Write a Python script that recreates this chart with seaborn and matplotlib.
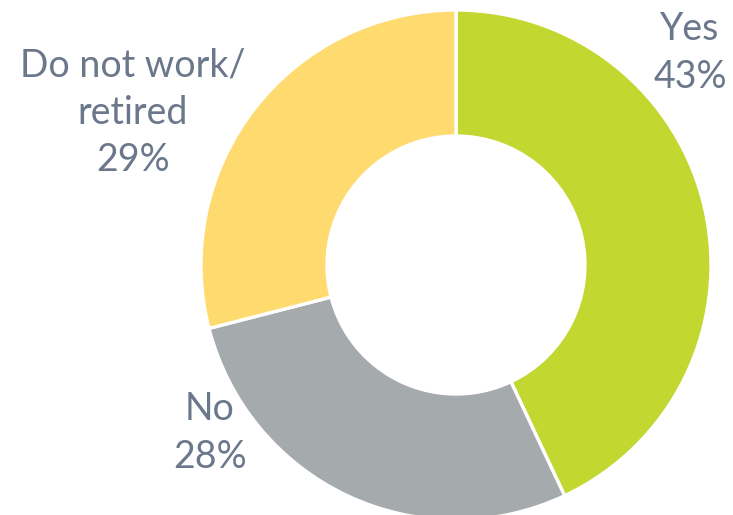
import matplotlib
matplotlib.use("Agg")
import matplotlib.pyplot as plt
import seaborn as sns

# Share of respondents by answer
categories = ["Yes", "No", "Do not work/\nretired"]
shares = [43, 28, 29]
colors = ["#C2D72F", "#A5AAAD", "#FFDA6F"]

sns.set_theme(style="white")
plt.rcParams["font.family"] = ["Lato", "DejaVu Sans"]

W, H = 733, 515
fig = plt.figure(figsize=(W / 100, H / 100), dpi=100)
ax = fig.add_axes([0, 0, 1, 1])

cx, cy = 456, H - 265
outer = 255
ring = 126

wedges, _ = ax.pie(
    shares,
    colors=colors,
    startangle=90,
    counterclock=False,
    radius=outer,
    center=(cx, cy),
    wedgeprops=dict(width=ring, edgecolor="white", linewidth=2.4),
    frame=True,
)
ax.set_xlim(0, W)
ax.set_ylim(0, H)
ax.set_aspect("equal")
ax.axis("off")

text_color = "#6B778B"
label_pos = [(690, H - 53), (210, H - 433), (133, H - 113)]
for name, val, (x, y) in zip(categories, shares, label_pos):
    ax.text(x, y, f"{name}\n{val}%", ha="center", va="center",
            fontsize=27, color=text_color, linespacing=1.38)

fig.savefig("out.png", dpi=100)
